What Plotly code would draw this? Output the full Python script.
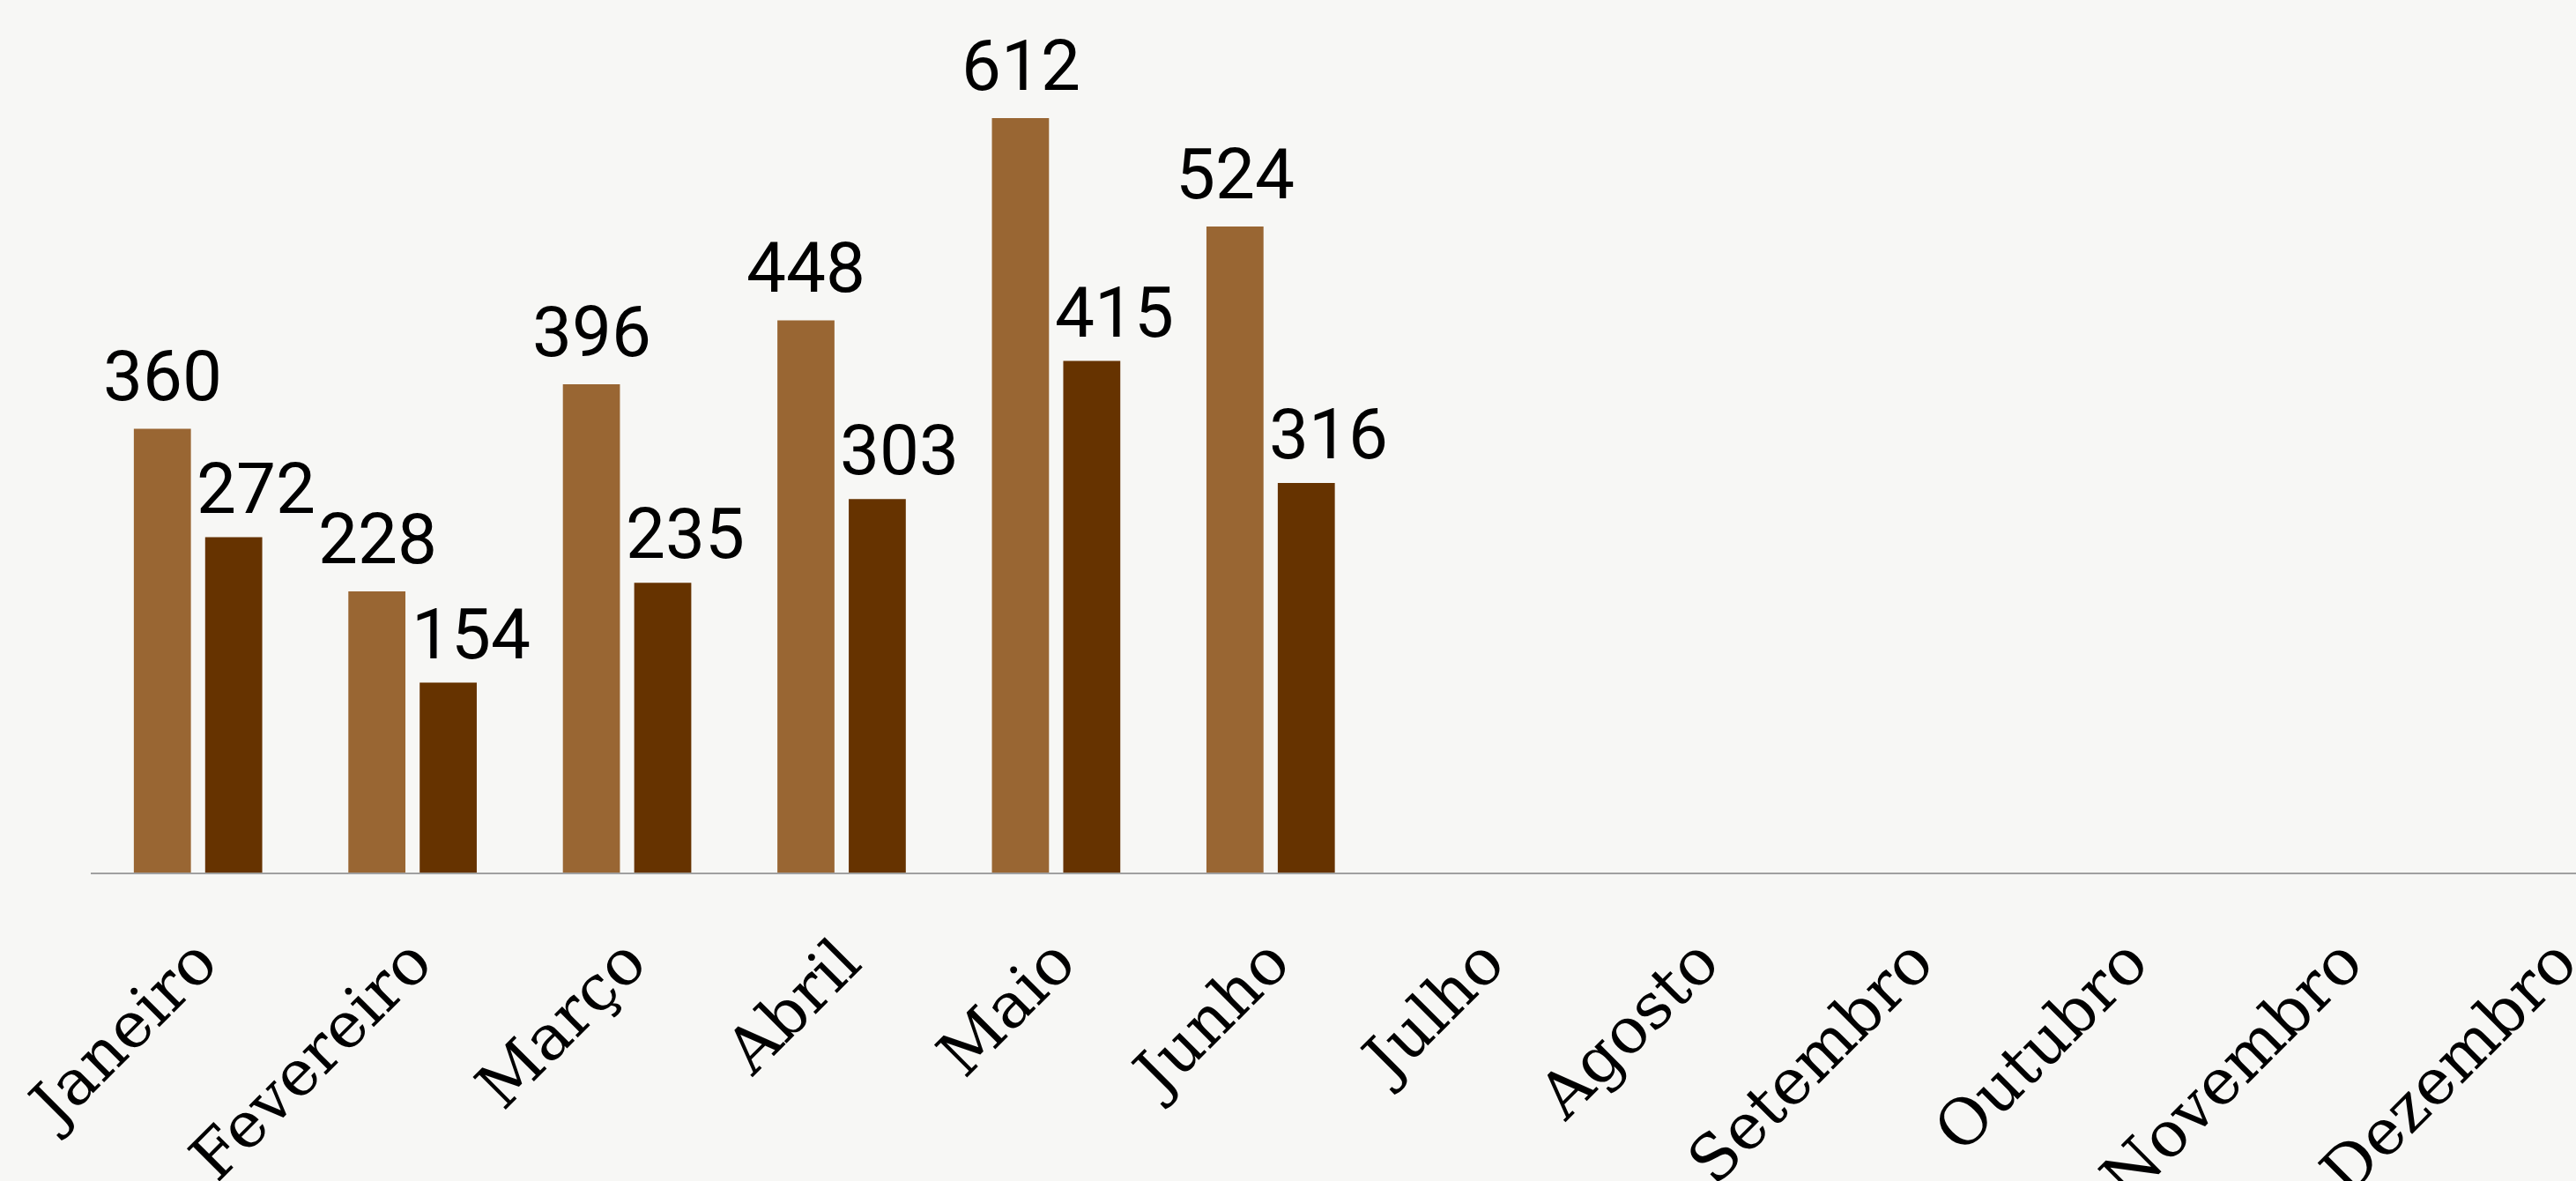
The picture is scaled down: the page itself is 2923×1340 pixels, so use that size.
import plotly.graph_objects as go

months = ["Janeiro", "Fevereiro", "Março", "Abril", "Maio", "Junho",
          "Julho", "Agosto", "Setembro", "Outubro", "Novembro", "Dezembro"]
series_a = [360, 228, 396, 448, 612, 524, None, None, None, None, None, None]
series_b = [272, 154, 235, 303, 415, 316, None, None, None, None, None, None]

light = "#996633"
dark = "#663300"
bg = "#f7f7f5"
label_font = dict(family="Roboto", size=80, color="#000000")

fig = go.Figure()
for vals, color in [(series_a, light), (series_b, dark)]:
    fig.add_trace(go.Bar(
        x=months,
        y=vals,
        marker=dict(color=color, line=dict(width=0)),
        hoverinfo="x+y",
    ))

# value labels above the bars (dark series labels sit a bit to the right)
for vals, shift_x, shift_y in [(series_a, -40, 10), (series_b, 66, 6)]:
    for m, v in zip(months, vals):
        if v is None:
            continue
        fig.add_annotation(
            x=m, y=v, text=str(v), showarrow=False,
            xanchor="center", yanchor="bottom",
            xshift=shift_x, yshift=shift_y,
            font=label_font,
        )

fig.update_layout(
    width=2923,
    height=1340,
    paper_bgcolor=bg,
    plot_bgcolor=bg,
    showlegend=False,
    barmode="group",
    bargap=0.335,
    bargroupgap=0.2,
    margin=dict(l=103, r=0, t=40, b=350),
)

fig.update_xaxes(
    range=[-0.5, 11.085],
    automargin=False,
    showline=True,
    linecolor="#a0a0a0",
    linewidth=2,
    showgrid=False,
    ticks="",
    tickangle=-45,
    ticklabelstandoff=28,
    tickfont=dict(family="DejaVu Serif", size=72, color="#000000"),
)
fig.update_yaxes(
    range=[0, 679.2],
    automargin=False,
    showticklabels=False,
    showgrid=False,
    zeroline=False,
    showline=False,
)

# page without the default body margin, so the figure fills the window
fig.write_html(
    "out.html",
    config={"displayModeBar": False},
    post_script="document.body.style.margin='0';document.body.style.overflow='hidden';",
)
